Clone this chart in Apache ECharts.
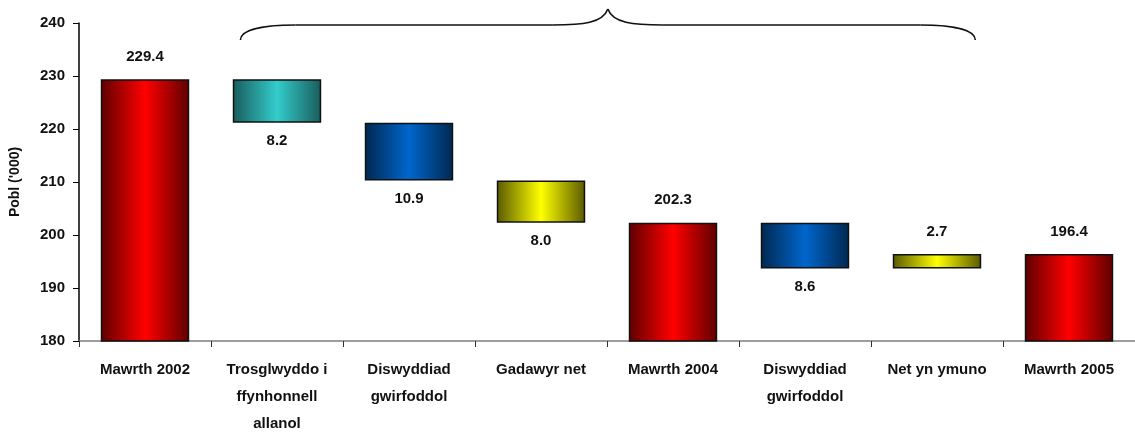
<!DOCTYPE html>
<html>
<head>
<meta charset="utf-8">
<script src="https://cdn.jsdelivr.net/npm/echarts@6/dist/echarts.min.js"></script>
<style>
html,body{margin:0;padding:0;background:#fff;}
#chart{width:1135px;height:437px;}
</style>
</head>
<body>
<div id="chart"></div>
<script>
// ---- data ----
const categories = ['Mawrth 2002', 'Trosglwyddo i\nffynhonnell\nallanol', 'Diswyddiad\ngwirfoddol', 'Gadawyr net', 'Mawrth 2004', 'Diswyddiad\ngwirfoddol', 'Net yn ymuno', 'Mawrth 2005'];
const values = [229.4, -8.2, -10.9, -8.0, 202.3, -8.6, 2.7, 196.4];
const isTotal = [true, false, false, false, true, false, false, true];
const yTicks = [180, 190, 200, 210, 220, 230, 240];

// ---- styling ----
const FONT = "'Liberation Sans', Arial, sans-serif";
const FS = 15;
function grad(edge, mid) {
  return new echarts.graphic.LinearGradient(0, 0, 1, 0, [
    {offset: 0, color: edge}, {offset: 0.5, color: mid}, {offset: 1, color: edge}
  ]);
}
const palette = {
  red: () => grad('#5e0000', '#ff0000'),
  teal: () => grad('#1a5c5c', '#33cccc'),
  blue: () => grad('#002850', '#0066cc'),
  yellow: () => grad('#595900', '#ffff00')
};
const colorKeys = ['red', 'teal', 'blue', 'yellow', 'red', 'blue', 'yellow', 'red'];

// ---- waterfall build ----
const base = [], visible = [];
let running = 0;
values.forEach((v, i) => {
  if (isTotal[i]) {
    base.push(0);
    visible.push({v: v, pos: 'top', txt: v.toFixed(1)});
    running = v;
  } else {
    const lo = v < 0 ? running + v : running;
    base.push(+lo.toFixed(2));
    visible.push({v: Math.abs(v), pos: v < 0 ? 'bottom' : 'top', txt: Math.abs(v).toFixed(1)});
    running += v;
  }
});

const chart = echarts.init(document.getElementById('chart'), null, {renderer: 'canvas'});
const option = {
  animation: false,
  backgroundColor: '#fff',
  grid: {left: 77, top: 23, width: 1070, height: 323, containLabel: false},
  xAxis: {
    type: 'category',
    data: categories,
    axisLine: {lineStyle: {color: '#7f7f7f', width: 1.5}},
    axisTick: {show: true, length: 6, lineStyle: {color: '#333', width: 1}},
    axisLabel: {
      color: '#111', fontFamily: FONT, fontWeight: 'bold', fontSize: FS,
      lineHeight: 27, margin: 15, interval: 0
    }
  },
  yAxis: {
    type: 'value',
    min: yTicks[0], max: yTicks[yTicks.length - 1], interval: 10,
    name: "Pobl ('000)",
    nameLocation: 'middle',
    nameGap: 57,
    nameRotate: 90,
    nameTextStyle: {color: '#111', fontFamily: FONT, fontWeight: 'bold', fontSize: 14},
    axisLine: {show: true, lineStyle: {color: '#000', width: 1.5}},
    axisTick: {show: true, length: 6, lineStyle: {color: '#000', width: 1}},
    axisLabel: {color: '#111', fontFamily: FONT, fontWeight: 'bold', fontSize: FS, margin: 14},
    splitLine: {show: false}
  },
  series: [
    {
      type: 'bar', stack: 'w', barWidth: '67%',
      itemStyle: {color: 'transparent', borderWidth: 0},
      emphasis: {disabled: true},
      data: base
    },
    {
      type: 'bar', stack: 'w', barWidth: '67%',
      data: visible.map((d, i) => ({
        value: d.v,
        itemStyle: {color: palette[colorKeys[i]](), borderColor: '#111', borderWidth: 1.5},
        label: {
          show: true, position: d.pos,
          distance: d.pos === 'top' ? 15 : 11,
          formatter: d.txt,
          color: '#111', fontFamily: FONT, fontWeight: 'bold', fontSize: FS
        }
      }))
    }
  ]
};
chart.setOption(option);

// brace over the change categories (index 1 .. 6)
const c0 = chart.convertToPixel({xAxisIndex: 0}, 0);
const c1 = chart.convertToPixel({xAxisIndex: 0}, 1);
const c6 = chart.convertToPixel({xAxisIndex: 0}, 6);
const cw = c1 - c0;
const topY = chart.convertToPixel({yAxisIndex: 0}, 240);
const x0 = c1 - 0.277 * cw;
const x1 = c6 + 0.29 * cw;
const xm = (x0 + x1) / 2;
const yEnd = topY + 17, yLine = topY + 2, yTip = topY - 14;
const st = {stroke: '#111', lineWidth: 1.6, fill: null};
function bez(a, b, c, d) {
  return {type: 'bezierCurve', shape: {x1: a[0], y1: a[1], cpx1: b[0], cpy1: b[1], cpx2: c[0], cpy2: c[1], x2: d[0], y2: d[1]}, style: st, silent: true};
}
function ln(a, b) {
  return {type: 'line', shape: {x1: a[0], y1: a[1], x2: b[0], y2: b[1]}, style: st, silent: true};
}
chart.setOption({
  graphic: [
    bez([x0, yEnd], [x0, yLine + 4], [x0 + 25, yLine], [x0 + 55, yLine]),
    ln([x0 + 55, yLine], [xm - 55, yLine]),
    bez([xm - 55, yLine], [xm - 25, yLine], [xm - 5, yLine - 2], [xm, yTip]),
    bez([xm, yTip], [xm + 5, yLine - 2], [xm + 25, yLine], [xm + 55, yLine]),
    ln([xm + 55, yLine], [x1 - 55, yLine]),
    bez([x1 - 55, yLine], [x1 - 25, yLine], [x1, yLine + 4], [x1, yEnd])
  ]
});
</script>
</body>
</html>
